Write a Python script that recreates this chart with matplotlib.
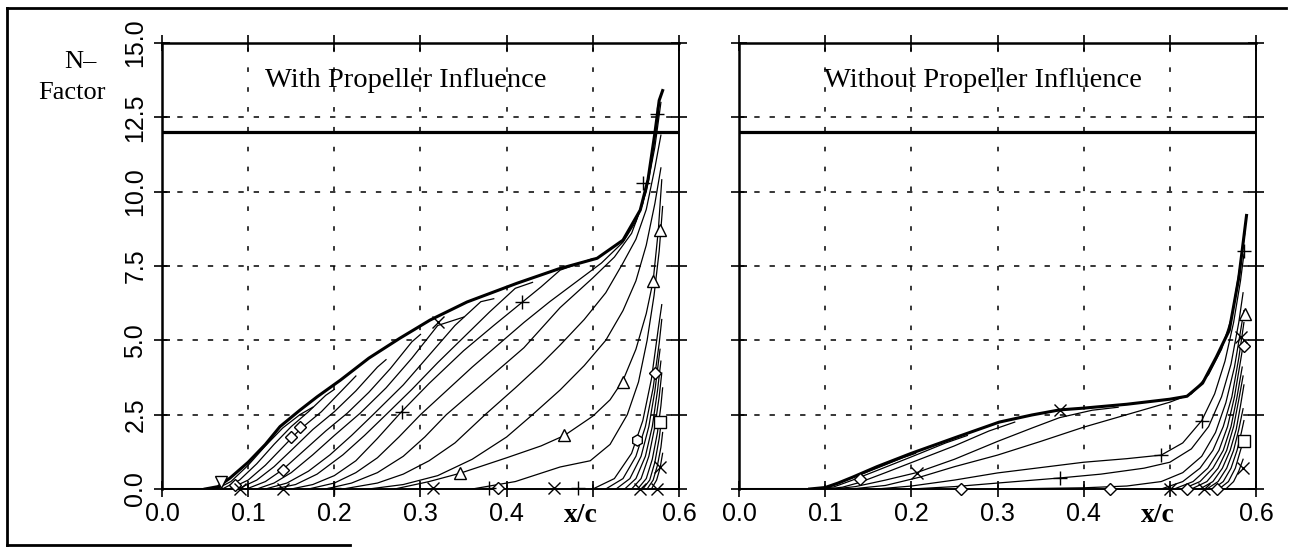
import matplotlib.pyplot as plt
from matplotlib.lines import Line2D

plt.rcParams["font.family"] = ["Liberation Sans Narrow", "Liberation Sans", "DejaVu Sans"]
SERIF = ["Liberation Serif", "DejaVu Serif"]

# axis ticks
x_ticks = [0.0, 0.1, 0.2, 0.3, 0.4, 0.5, 0.6]
x_labels = ["0.0", "0.1", "0.2", "0.3", "0.4", "", "0.6"]
y_ticks = [0.0, 2.5, 5.0, 7.5, 10.0, 12.5, 15.0]
y_labels = ["0.0", "2.5", "5.0", "7.5", "10.0", "12.5", "15.0"]
n_crit = 12.0

# ---- with propeller influence ----
left_env_x = [0.05, 0.065, 0.079, 0.1, 0.12, 0.137, 0.16, 0.18, 0.207, 0.24, 0.276,
              0.311, 0.354, 0.412, 0.46, 0.505, 0.535, 0.555, 0.564, 0.572, 0.577, 0.581]
left_env_n = [0.0, 0.08, 0.37, 0.9, 1.5, 2.1, 2.65, 3.1, 3.66, 4.4, 5.07,
              5.68, 6.29, 6.92, 7.4, 7.76, 8.37, 9.38, 10.4, 11.97, 13.07, 13.4]

left_curves = [
    ([0.063, 0.08, 0.1, 0.12, 0.14, 0.16, 0.175], [0, 0.25, 0.8, 1.45, 2.05, 2.5, 2.75]),
    ([0.07, 0.09, 0.11, 0.13, 0.15, 0.17, 0.19, 0.2], [0, 0.3, 0.85, 1.5, 2.1, 2.6, 3.15, 3.35]),
    ([0.078, 0.1, 0.12, 0.14, 0.16, 0.185, 0.21, 0.225], [0, 0.3, 0.8, 1.4, 2.0, 2.6, 3.35, 3.8]),
    ([0.088, 0.11, 0.13, 0.15, 0.175, 0.2, 0.225, 0.25, 0.26], [0, 0.3, 0.75, 1.3, 2.0, 2.6, 3.3, 4.1, 4.35]),
    ([0.098, 0.12, 0.14, 0.165, 0.19, 0.215, 0.24, 0.265, 0.29, 0.3],
     [0, 0.25, 0.65, 1.3, 1.95, 2.55, 3.25, 4.05, 4.95, 5.2]),
    ([0.11, 0.13, 0.15, 0.175, 0.2, 0.23, 0.26, 0.29, 0.32, 0.35],
     [0, 0.2, 0.55, 1.15, 1.8, 2.55, 3.4, 4.4, 5.5, 5.78]),
    ([0.12, 0.145, 0.17, 0.195, 0.22, 0.245, 0.28, 0.31, 0.34, 0.37, 0.385],
     [0, 0.2, 0.6, 1.15, 1.8, 2.5, 3.5, 4.5, 5.5, 6.3, 6.4]),
    ([0.13, 0.155, 0.18, 0.21, 0.235, 0.26, 0.29, 0.32, 0.35, 0.38, 0.41, 0.43],
     [0, 0.15, 0.5, 1.15, 1.8, 2.5, 3.35, 4.25, 5.1, 5.95, 6.75, 6.95]),
    ([0.15, 0.175, 0.2, 0.225, 0.25, 0.278, 0.31, 0.35, 0.385, 0.418, 0.44, 0.462, 0.5],
     [0, 0.15, 0.45, 0.95, 1.7, 2.6, 3.55, 4.65, 5.5, 6.28, 6.8, 7.36, 7.75]),
    ([0.17, 0.2, 0.225, 0.25, 0.275, 0.3, 0.33, 0.36, 0.39, 0.42, 0.45, 0.48, 0.51, 0.535, 0.55, 0.562, 0.572, 0.579],
     [0, 0.2, 0.55, 1.05, 1.75, 2.5, 3.3, 4.1, 4.85, 5.6, 6.3, 6.95, 7.6, 8.3, 9.0, 10.0, 11.5, 13.0]),
    ([0.19, 0.22, 0.25, 0.28, 0.305, 0.33, 0.36, 0.39, 0.42, 0.462, 0.5, 0.525, 0.545, 0.558, 0.568, 0.576],
     [0, 0.2, 0.55, 1.1, 1.75, 2.5, 3.25, 4.0, 4.75, 6.1, 7.1, 7.8, 8.6, 9.6, 11.0, 12.6]),
    ([0.21, 0.25, 0.28, 0.31, 0.34, 0.375, 0.41, 0.44, 0.462, 0.49, 0.515, 0.535, 0.55, 0.562, 0.572, 0.579],
     [0, 0.2, 0.5, 0.95, 1.55, 2.5, 3.4, 4.2, 4.84, 5.7, 6.6, 7.6, 8.4, 9.4, 10.8, 11.9]),
    ([0.24, 0.28, 0.32, 0.36, 0.4, 0.43, 0.462, 0.49, 0.515, 0.535, 0.55, 0.562, 0.572, 0.579],
     [0, 0.15, 0.45, 1.0, 1.75, 2.5, 3.33, 4.15, 5.0, 6.0, 7.0, 8.2, 9.6, 10.8]),
    ([0.27, 0.31, 0.346, 0.4, 0.44, 0.467, 0.5, 0.52, 0.535, 0.55, 0.562, 0.57, 0.576, 0.58],
     [0, 0.25, 0.53, 1.05, 1.45, 1.8, 2.45, 3.0, 3.65, 4.7, 5.9, 7.0, 8.7, 10.4]),
    ([0.36, 0.41, 0.462, 0.497, 0.52, 0.54, 0.553, 0.563, 0.571, 0.577, 0.581],
     [0, 0.25, 0.74, 0.95, 1.5, 2.5, 3.6, 5.0, 6.5, 8.0, 9.5]),
    ([0.5, 0.525, 0.545, 0.558, 0.568, 0.576, 0.58], [0, 0.35, 1.2, 2.3, 3.7, 5.4, 6.2]),
    ([0.515, 0.535, 0.55, 0.561, 0.57, 0.577, 0.58], [0, 0.35, 1.1, 2.1, 3.4, 4.9, 5.7]),
    ([0.527, 0.543, 0.556, 0.565, 0.572, 0.578], [0, 0.35, 1.1, 2.1, 3.3, 4.7]),
    ([0.537, 0.55, 0.561, 0.569, 0.575, 0.579], [0, 0.35, 1.1, 2.1, 3.3, 4.3]),
    ([0.545, 0.556, 0.565, 0.572, 0.577, 0.58], [0, 0.35, 1.1, 2.1, 3.1, 3.9]),
    ([0.552, 0.562, 0.569, 0.575, 0.579, 0.581], [0, 0.35, 1.0, 1.9, 2.8, 3.4]),
    ([0.558, 0.566, 0.572, 0.577, 0.58], [0, 0.3, 0.9, 1.7, 2.4]),
    ([0.563, 0.57, 0.575, 0.579, 0.581], [0, 0.3, 0.8, 1.4, 1.9]),
    ([0.568, 0.574, 0.578, 0.581], [0, 0.3, 0.7, 1.2]),
]

left_marks = {
    "v": [(0.068, 0.22)],
    "D": [(0.085, 0.15), (0.14, 0.64), (0.15, 1.75), (0.16, 2.1), (0.39, 0.03), (0.572, 3.9)],
    "x": [(0.09, 0.0), (0.14, 0.0), (0.32, 5.62), (0.315, 0.05), (0.455, 0.05),
          (0.555, 0.0), (0.575, 0.0), (0.578, 0.75)],
    "+": [(0.2, 0.05), (0.278, 2.6), (0.418, 6.28), (0.38, 0.05), (0.483, 0.05),
          (0.558, 10.3), (0.574, 12.6)],
    "^": [(0.346, 0.53), (0.467, 1.8), (0.535, 3.6), (0.57, 7.0), (0.578, 8.7)],
    "s": [(0.578, 2.25)],
    "h": [(0.551, 1.65)],
}

# ---- without propeller influence ----
right_env_x = [0.082, 0.1, 0.115, 0.132, 0.16, 0.2, 0.253, 0.302, 0.34, 0.372, 0.4,
               0.45, 0.5, 0.52, 0.538, 0.554, 0.569, 0.58, 0.589]
right_env_n = [0.0, 0.05, 0.2, 0.4, 0.75, 1.2, 1.75, 2.25, 2.49, 2.66, 2.72,
               2.85, 3.02, 3.12, 3.56, 4.44, 5.34, 7.1, 9.2]

right_curves = [
    ([0.085, 0.1, 0.115, 0.13, 0.16, 0.19, 0.205], [0, 0.04, 0.18, 0.36, 0.7, 1.05, 1.2]),
    ([0.09, 0.11, 0.13, 0.16, 0.2, 0.24, 0.265], [0, 0.07, 0.28, 0.62, 1.08, 1.55, 1.8]),
    ([0.1, 0.12, 0.14, 0.17, 0.21, 0.25, 0.29, 0.32], [0, 0.06, 0.22, 0.55, 1.0, 1.45, 1.95, 2.25]),
    ([0.11, 0.135, 0.17, 0.206, 0.25, 0.3, 0.34, 0.372, 0.41, 0.44],
     [0, 0.08, 0.3, 0.55, 1.0, 1.6, 2.05, 2.4, 2.65, 2.75]),
    ([0.13, 0.17, 0.21, 0.25, 0.3, 0.35, 0.4, 0.45, 0.5, 0.525, 0.545, 0.56, 0.572, 0.582, 0.587],
     [0, 0.12, 0.4, 0.75, 1.14, 1.6, 2.08, 2.5, 2.92, 3.2, 3.85, 4.7, 5.8, 7.6, 8.6]),
    ([0.16, 0.2, 0.25, 0.3, 0.35, 0.4, 0.45, 0.49, 0.515, 0.537, 0.552, 0.564, 0.574, 0.582, 0.586],
     [0, 0.1, 0.3, 0.54, 0.72, 0.9, 1.02, 1.14, 1.55, 2.3, 3.2, 4.3, 5.6, 7.0, 7.9]),
    ([0.2, 0.25, 0.3, 0.372, 0.42, 0.47, 0.5, 0.525, 0.545, 0.56, 0.571, 0.58, 0.585],
     [0, 0.08, 0.2, 0.37, 0.5, 0.7, 0.9, 1.35, 2.1, 3.1, 4.2, 5.6, 6.6]),
    ([0.3, 0.4, 0.45, 0.49, 0.515, 0.537, 0.553, 0.565, 0.575, 0.582, 0.586],
     [0, 0.04, 0.1, 0.25, 0.55, 1.1, 1.9, 2.9, 4.1, 5.3, 6.0]),
    ([0.49, 0.515, 0.535, 0.55, 0.562, 0.572, 0.58, 0.586], [0, 0.25, 0.7, 1.3, 2.1, 3.1, 4.4, 5.6]),
    ([0.505, 0.527, 0.544, 0.557, 0.567, 0.575, 0.582, 0.586], [0, 0.25, 0.7, 1.3, 2.1, 3.1, 4.3, 5.0]),
    ([0.515, 0.535, 0.55, 0.562, 0.571, 0.578, 0.584], [0, 0.25, 0.7, 1.3, 2.1, 3.1, 4.1]),
    ([0.525, 0.543, 0.556, 0.566, 0.574, 0.58, 0.585], [0, 0.25, 0.7, 1.3, 2.1, 3.0, 3.8]),
    ([0.535, 0.55, 0.561, 0.57, 0.577, 0.582, 0.586], [0, 0.25, 0.7, 1.3, 2.0, 2.8, 3.5]),
    ([0.543, 0.556, 0.566, 0.574, 0.58, 0.585], [0, 0.25, 0.7, 1.3, 2.0, 2.7]),
    ([0.55, 0.562, 0.571, 0.578, 0.583, 0.586], [0, 0.25, 0.7, 1.3, 1.9, 2.3]),
    ([0.557, 0.568, 0.576, 0.581, 0.585], [0, 0.25, 0.7, 1.2, 1.6]),
    ([0.565, 0.574, 0.58, 0.585], [0, 0.25, 0.6, 1.0]),
]

right_marks = {
    "D": [(0.14, 0.32), (0.258, 0.0), (0.43, 0.0), (0.52, 0.0), (0.555, 0.0), (0.586, 4.8)],
    "x": [(0.206, 0.55), (0.372, 2.66), (0.5, 0.0), (0.54, 0.0), (0.585, 0.7), (0.583, 5.1)],
    "+": [(0.372, 0.37), (0.49, 1.14), (0.537, 2.3), (0.586, 8.0)],
    "^": [(0.587, 5.9)],
    "s": [(0.586, 1.6)],
}

marker_size = {"D": 6.5, "x": 9, "+": 10, "^": 9, "v": 9, "s": 8, "h": 8}

W, H = 1293, 547
fig = plt.figure(figsize=(W / 100, H / 100), dpi=100)
ax_l = fig.add_axes([162 / W, 58 / H, 517 / W, 446 / H])
ax_r = fig.add_axes([739 / W, 58 / H, 517 / W, 446 / H])


def draw_panel(ax, env_x, env_n, curves, marks, title, ylabels):
    ax.set_xlim(0, 0.6)
    ax.set_ylim(0, 15)
    for xv in x_ticks[1:-1]:
        ax.axvline(xv, color="black", lw=1.1, dashes=(3, 10), zorder=1)
    for yv in y_ticks[1:-1]:
        ax.axhline(yv, color="black", lw=1.1, dashes=(3.5, 6.5), zorder=1)
    ax.axhline(n_crit, color="black", lw=2.3, zorder=3)

    for xs, ns in curves:
        ax.plot(xs, ns, color="black", lw=0.9, zorder=2)
    ax.plot(env_x, env_n, color="black", lw=2.2, zorder=3)
    ax.plot([0, env_x[0]], [0, 0], color="black", lw=2.2, zorder=3)

    for m, pts in marks.items():
        ax.plot([p[0] for p in pts], [p[1] for p in pts], ls="none", marker=m,
                ms=marker_size[m], mfc="white", mec="black", mew=1.0, zorder=4,
                clip_on=False)

    ax.set_xticks(x_ticks)
    ax.set_xticklabels(x_labels)
    ax.set_yticks(y_ticks)
    if ylabels:
        ax.set_yticklabels(y_labels, rotation=90, va="center")
    else:
        ax.set_yticklabels([])
    ax.tick_params(direction="inout", length=11, width=1.2, top=True, right=True,
                   labelsize=18, pad=4)
    ax.tick_params(axis="y", pad=5)
    for s in ax.spines.values():
        s.set_linewidth(1.4)
    ax.spines["left"].set_linewidth(1.8)
    ax.spines["top"].set_linewidth(1.8)

    ax.text(0.283, 13.75, title, ha="center", va="center", fontsize=20.5, family=SERIF)
    ax.text(0.486, -0.88, "x/c", ha="center", va="center", fontsize=20,
            fontweight="bold", family=SERIF, clip_on=False)


draw_panel(ax_l, left_env_x, left_env_n, left_curves, left_marks,
           "With Propeller Influence", True)
draw_panel(ax_r, right_env_x, right_env_n, right_curves, right_marks,
           "Without Propeller Influence", False)

fig.text(80 / W, 1 - 62 / H, "N\u2013", ha="center", va="center", fontsize=19, family=SERIF)
fig.text(72 / W, 1 - 93 / H, "Factor", ha="center", va="center", fontsize=19, family=SERIF)

# outer frame
fig.add_artist(Line2D([7 / W, 7 / W], [1 - 8 / H, 2 / H], color="black", lw=2.0))
fig.add_artist(Line2D([7 / W, 1286 / W], [1 - 8 / H, 1 - 8 / H], color="black", lw=2.0))
fig.add_artist(Line2D([7 / W, 350 / W], [2 / H, 2 / H], color="black", lw=2.0))

fig.savefig("out.png", dpi=100)
